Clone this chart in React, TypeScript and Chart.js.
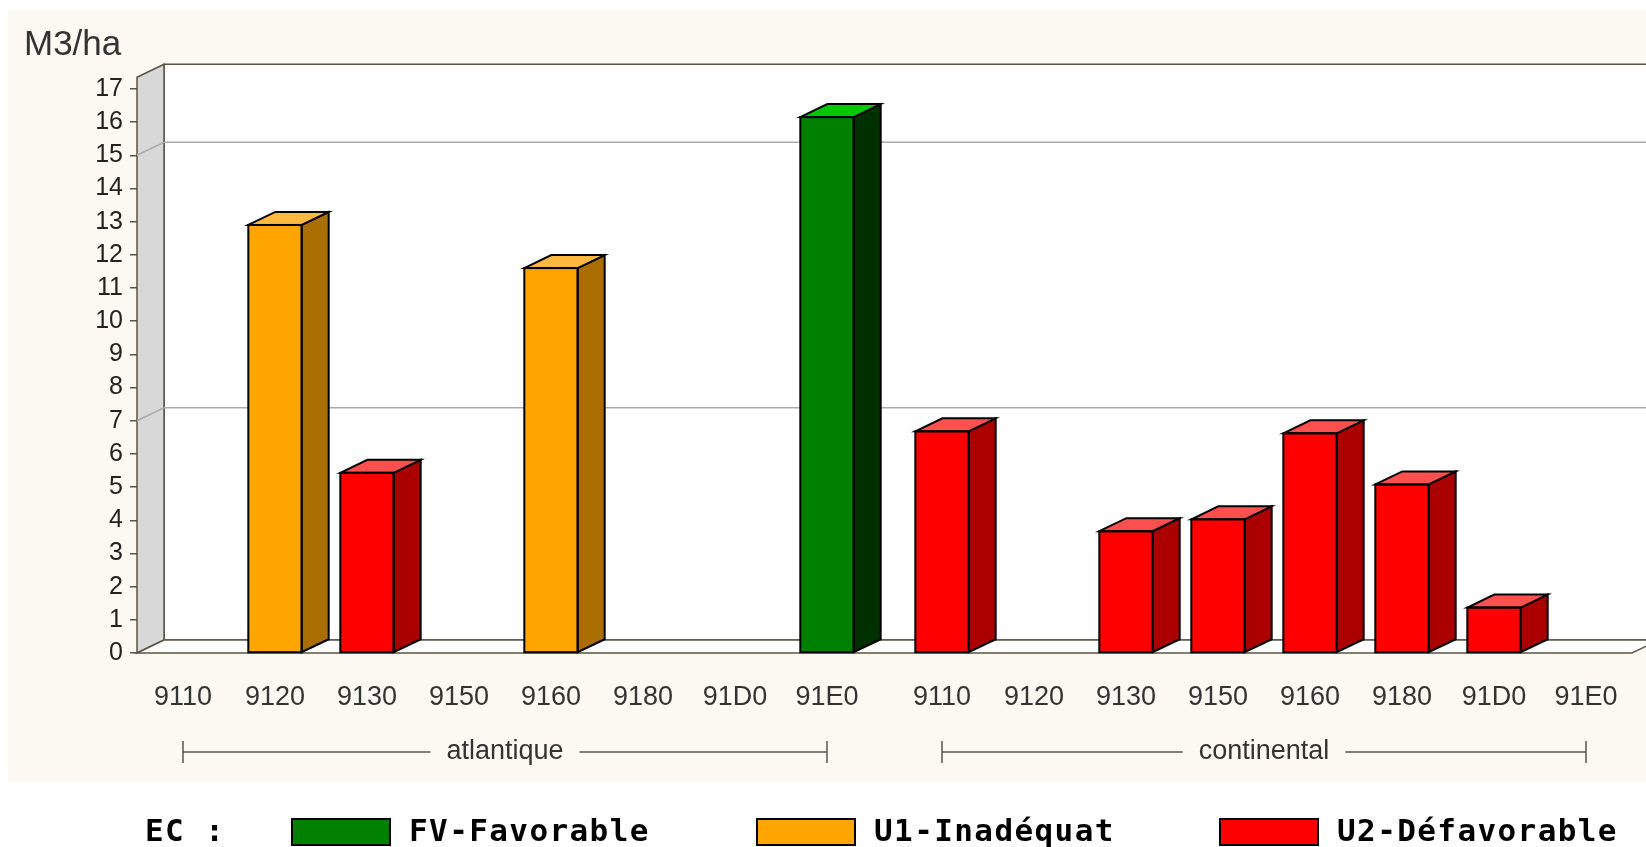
import React, { useEffect, useRef } from 'react';
import { Chart, registerables } from 'chart.js';

Chart.register(...registerables);

// ---------- data ----------
const categories = ['9110', '9120', '9130', '9150', '9160', '9180', '91D0', '91E0'];
const regionNames = ['atlantique', 'continental'];

const atlantiqueFV = [null, null, null, null, null, null, null, 16.15];
const atlantiqueU1 = [null, 12.9, null, null, 11.6, null, null, null];
const atlantiqueU2 = [null, null, 5.43, null, null, null, null, null];

const continentalFV = [null, null, null, null, null, null, null, null];
const continentalU1 = [null, null, null, null, null, null, null, null];
const continentalU2 = [6.68, null, 3.67, 4.03, 6.62, 5.08, 1.37, null];

const yTickValues = [0, 1, 2, 3, 4, 5, 6, 7, 8, 9, 10, 11, 12, 13, 14, 15, 16, 17];
const backGridValues = [7, 15];
const yAxisTitle = 'M3/ha';

const legendTitle = 'EC :';
const statusLabels = ['FV-Favorable', 'U1-Inadéquat', 'U2-Défavorable'];

// ---------- styles ----------
const frontColors = ['#008000', '#FFA500', '#FF0000'];
const topColors = ['#00C800', '#FFB840', '#FF5050'];
const sideColors = ['#003000', '#AA6E00', '#AA0000'];

const FONT = '"Liberation Sans", Arial, sans-serif';
const LEGEND_FONT = '"DejaVu Sans Mono", monospace';
const DX = 27;
const DY = 13;
const GROUP_GAP = 0.25;
const EDGE = '#5a5444';

const seriesValues = [
  [...atlantiqueFV, ...continentalFV],
  [...atlantiqueU1, ...continentalU1],
  [...atlantiqueU2, ...continentalU2],
];
const xPositions = regionNames.flatMap((_, r) =>
  categories.map((_, i) => r * (categories.length + GROUP_GAP) + i)
);
const xLabels = regionNames.flatMap(() => categories);

const poly = (ctx: CanvasRenderingContext2D, pts: number[][], fill: string, stroke: string, lw: number) => {
  ctx.beginPath();
  ctx.moveTo(pts[0][0], pts[0][1]);
  for (let i = 1; i < pts.length; i++) ctx.lineTo(pts[i][0], pts[i][1]);
  ctx.closePath();
  if (fill) {
    ctx.fillStyle = fill;
    ctx.fill();
  }
  if (stroke) {
    ctx.strokeStyle = stroke;
    ctx.lineWidth = lw;
    ctx.stroke();
  }
};

const scenePlugin = {
  id: 'scene3d',
  beforeDraw(chart: any) {
    const ctx = chart.ctx as CanvasRenderingContext2D;
    ctx.save();
    ctx.fillStyle = '#ffffff';
    ctx.fillRect(0, 0, chart.width, chart.height);
    ctx.fillStyle = '#FCF9F2';
    ctx.fillRect(8, 10, chart.width - 8, 772);
    ctx.restore();
  },
  beforeDatasetsDraw(chart: any) {
    const ctx = chart.ctx as CanvasRenderingContext2D;
    const { left, right, top, bottom } = chart.chartArea;
    const y = chart.scales.y;
    ctx.save();
    // back wall
    poly(ctx, [[left + DX, top - DY], [right + DX, top - DY], [right + DX, bottom - DY], [left + DX, bottom - DY]], '#ffffff', EDGE, 1.5);
    // left wall
    poly(ctx, [[left, top], [left + DX, top - DY], [left + DX, bottom - DY], [left, bottom]], '#D8D8D8', EDGE, 1.5);
    // floor
    poly(ctx, [[left, bottom], [left + DX, bottom - DY], [right + DX, bottom - DY], [right, bottom]], '#ffffff', EDGE, 1.5);
    // grid lines on walls
    ctx.strokeStyle = '#ababab';
    ctx.lineWidth = 1.5;
    backGridValues.forEach((v) => {
      const py = y.getPixelForValue(v);
      ctx.beginPath();
      ctx.moveTo(left, py);
      ctx.lineTo(left + DX, py - DY);
      ctx.lineTo(right + DX, py - DY);
      ctx.stroke();
    });
    ctx.restore();
  },
  afterDatasetsDraw(chart: any) {
    const ctx = chart.ctx as CanvasRenderingContext2D;
    ctx.save();
    ctx.lineJoin = 'miter';
    chart.data.datasets.forEach((ds: any, s: number) => {
      const meta = chart.getDatasetMeta(s);
      meta.data.forEach((bar: any, k: number) => {
        if (seriesValues[s][k] == null) return;
        const { x, y, base, width } = bar.getProps(['x', 'y', 'base', 'width'], true);
        const l = x - width / 2;
        const r = x + width / 2;
        poly(ctx, [[r, y], [r + DX, y - DY], [r + DX, base - DY], [r, base]], sideColors[s], '#000', 2);
        poly(ctx, [[l, y], [l + DX, y - DY], [r + DX, y - DY], [r, y]], topColors[s], '#000', 2);
        ctx.strokeStyle = '#000';
        ctx.lineWidth = 2;
        ctx.strokeRect(l, y, width, base - y);
      });
    });
    ctx.restore();
  },
  afterDraw(chart: any) {
    const ctx = chart.ctx as CanvasRenderingContext2D;
    const xs = chart.scales.x;
    ctx.save();
    // y axis title
    ctx.fillStyle = '#333';
    ctx.font = `35px ${FONT}`;
    ctx.textAlign = 'left';
    ctx.textBaseline = 'alphabetic';
    ctx.fillText(yAxisTitle, 24, 55);

    // region brackets
    ctx.font = `27px ${FONT}`;
    ctx.textAlign = 'center';
    ctx.textBaseline = 'middle';
    ctx.strokeStyle = '#555';
    ctx.lineWidth = 1.5;
    const by = 752;
    regionNames.forEach((name, r) => {
      const x0 = xs.getPixelForValue(xPositions[r * categories.length]);
      const x1 = xs.getPixelForValue(xPositions[r * categories.length + categories.length - 1]);
      const cx = (x0 + x1) / 2;
      const tw = ctx.measureText(name).width;
      ctx.beginPath();
      ctx.moveTo(x0, by - 11);
      ctx.lineTo(x0, by + 11);
      ctx.moveTo(x0, by);
      ctx.lineTo(cx - tw / 2 - 16, by);
      ctx.moveTo(cx + tw / 2 + 16, by);
      ctx.lineTo(x1, by);
      ctx.moveTo(x1, by - 11);
      ctx.lineTo(x1, by + 11);
      ctx.stroke();
      ctx.fillStyle = '#333';
      ctx.fillText(name, cx, by);
    });

    // legend
    const ly = 833;
    ctx.font = `bold 31px ${LEGEND_FONT}`;
    (ctx as any).letterSpacing = '1.4px';
    ctx.textAlign = 'left';
    ctx.textBaseline = 'middle';
    ctx.fillStyle = '#000';
    ctx.fillText(legendTitle, 145, ly);
    const boxX = [291, 756, 1219];
    statusLabels.forEach((label, s) => {
      ctx.fillStyle = frontColors[s];
      ctx.fillRect(boxX[s], 818, 100, 28);
      ctx.strokeStyle = '#000';
      ctx.lineWidth = 2;
      ctx.strokeRect(boxX[s] + 1, 819, 98, 26);
      ctx.fillStyle = '#000';
      ctx.fillText(label, boxX[s] + 118, ly);
    });
    ctx.restore();
  },
};

export default function App() {
  const canvasRef = useRef<HTMLCanvasElement | null>(null);

  useEffect(() => {
    const canvas = canvasRef.current;
    if (!canvas) return;
    const chart = new Chart(canvas, {
      type: 'bar',
      data: {
        datasets: statusLabels.map((label, s) => ({
          label,
          data: xPositions.map((x, k) => ({ x, y: seriesValues[s][k] })),
          backgroundColor: frontColors[s],
          borderColor: '#000',
          borderWidth: 0,
          grouped: false,
          barPercentage: 0.58,
          categoryPercentage: 1,
        })),
      },
      options: {
        responsive: false,
        animation: false,
        devicePixelRatio: 1,
        layout: { padding: { left: 0, right: 14, top: 77.3, bottom: 0 } },
        plugins: {
          legend: { display: false },
          tooltip: { enabled: false },
        },
        scales: {
          x: {
            type: 'linear',
            min: -0.5,
            max: xPositions[xPositions.length - 1] + 0.5,
            offset: false,
            grid: { display: false, drawTicks: false },
            border: { display: false },
            afterBuildTicks: (axis: any) => {
              axis.ticks = xPositions.map((v) => ({ value: v }));
            },
            afterFit: (axis: any) => {
              axis.height = 194;
            },
            ticks: {
              autoSkip: false,
              maxRotation: 0,
              minRotation: 0,
              padding: 28,
              color: '#333',
              font: { family: FONT, size: 27 },
              callback: (_v: any, i: number) => xLabels[i],
            },
          },
          y: {
            type: 'linear',
            min: 0,
            max: 17.35,
            afterBuildTicks: (axis: any) => {
              axis.ticks = yTickValues.map((v) => ({ value: v }));
            },
            afterFit: (axis: any) => {
              axis.width = 137;
            },
            grid: { drawOnChartArea: false, drawTicks: true, tickLength: 7, color: EDGE, lineWidth: 1.5 },
            border: { display: false },
            ticks: {
              padding: 7,
              color: '#222',
              font: { family: FONT, size: 25 },
              callback: (v: any) => String(v),
            },
          },
        },
      } as any,
      plugins: [scenePlugin],
    });
    return () => chart.destroy();
  }, []);

  return (
    <canvas
      ref={canvasRef}
      width={1646}
      height={847}
      style={{ position: 'fixed', left: 0, top: 0, width: 1646, height: 847 }}
    />
  );
}
